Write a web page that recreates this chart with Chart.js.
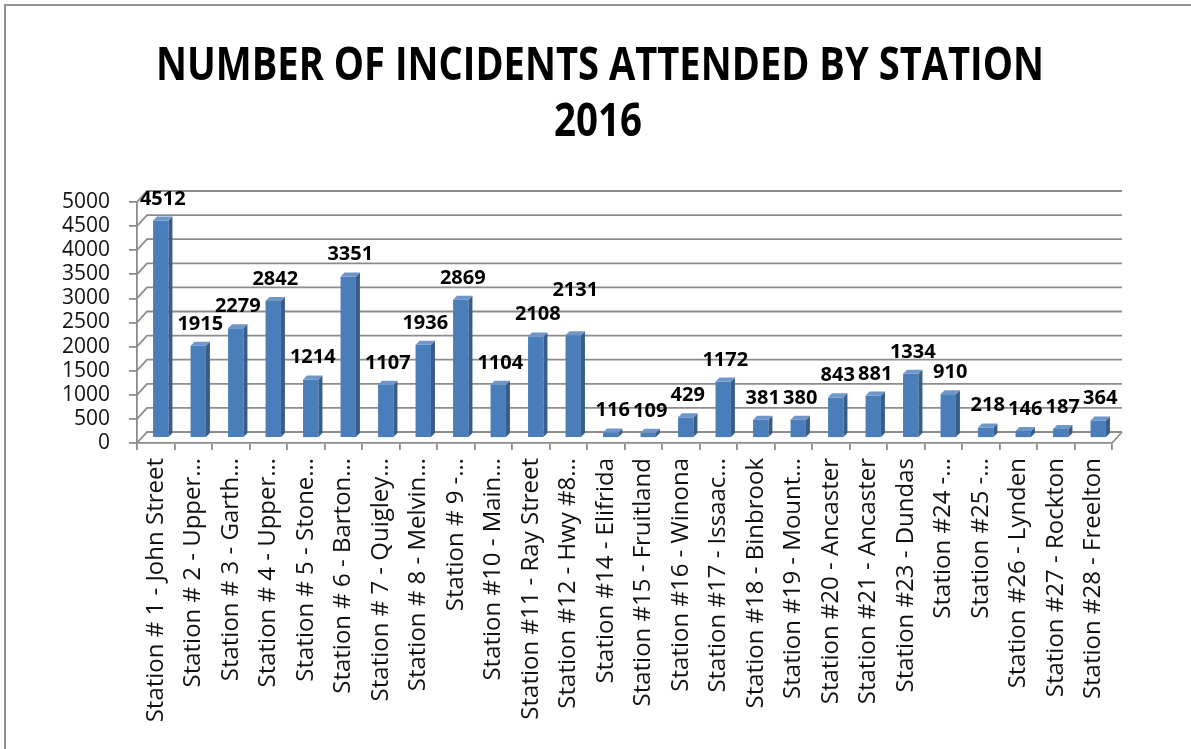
<!DOCTYPE html>
<html>
<head>
<meta charset="utf-8">
<script src="https://cdn.jsdelivr.net/npm/chart.js@4"></script>
<style>
  html, body { margin: 0; padding: 0; background: #fff; overflow: hidden; }
  #wrap { position: relative; width: 1191px; height: 749px; }
  #frame { position: absolute; left: 4px; top: 4px; width: 1300px; height: 900px;
           border-left: 2px solid #8f8f8f; border-top: 2px solid #8f8f8f; pointer-events: none; }
</style>
</head>
<body>
<div id="wrap">
  <canvas id="chart"></canvas>
  <div id="frame"></div>
</div>
<script>
// Incidents attended by station, 2016 - 3D-looking column chart
const stations = [
  'Station # 1 - John Street', 'Station # 2 - Upper…', 'Station # 3 - Garth…',
  'Station # 4 - Upper…', 'Station # 5 - Stone…', 'Station # 6 - Barton…',
  'Station # 7 - Quigley…', 'Station # 8 - Melvin…', 'Station # 9 -…',
  'Station #10 - Main…', 'Station #11 - Ray Street', 'Station #12 - Hwy #8…',
  'Station #14 - Elifrida', 'Station #15 - Fruitland', 'Station #16 - Winona',
  'Station #17 - Issaac…', 'Station #18 - Binbrook', 'Station #19 - Mount…',
  'Station #20 - Ancaster', 'Station #21 - Ancaster', 'Station #23 - Dundas',
  'Station #24 -…', 'Station #25 -…', 'Station #26 - Lynden',
  'Station #27 - Rockton', 'Station #28 - Freelton'
];
const incidents = [4512, 1915, 2279, 2842, 1214, 3351, 1107, 1936, 2869, 1104, 2108, 2131,
  116, 109, 429, 1172, 381, 380, 843, 881, 1334, 910, 218, 146, 187, 364];

const titleLines = ['NUMBER OF INCIDENTS ATTENDED BY STATION', '2016'];

// depth of the back wall and of the bars
const wallDx = 10, wallDy = -11;
const barShift = 5, barDepth = 4;

// title drawn by hand so it can be squeezed like the original's narrow font
const titlePlugin = {
  id: 'squeezedTitle',
  afterDraw(chart) {
    const ctx = chart.ctx;
    ctx.save();
    ctx.fillStyle = '#000';
    ctx.textAlign = 'center';
    ctx.textBaseline = 'alphabetic';
    ctx.font = 'bold 47px "Open Sans", sans-serif';
    ctx.fillText(titleLines[0], 600, 80, 888);
    ctx.fillText(titleLines[1], 598, 136, 88);
    ctx.restore();
  }
};

const wallPlugin = {
  id: 'wall',
  beforeDatasetsDraw(chart) {
    const { ctx, scales: { x, y } } = chart;
    ctx.save();
    ctx.strokeStyle = '#8c8c8c';
    ctx.lineWidth = 1.8;
    y.ticks.forEach(t => {
      const py = y.getPixelForValue(t.value);
      ctx.beginPath();
      ctx.moveTo(x.left, py);
      ctx.lineTo(x.left + wallDx, py + wallDy);
      ctx.lineTo(x.right + wallDx, py + wallDy);
      ctx.stroke();
    });
    // floor right edge
    const p0 = y.getPixelForValue(0);
    ctx.beginPath();
    ctx.moveTo(x.right, p0);
    ctx.lineTo(x.right + wallDx, p0 + wallDy);
    ctx.stroke();
    ctx.restore();

    // shift the bars into the middle of the depth
    ctx.save();
    ctx.translate(barShift, -barShift);
  },
  afterDatasetsDraw(chart) {
    const { ctx } = chart;
    const meta = chart.getDatasetMeta(0);
    let prev = null;
    meta.data.forEach((bar, i) => {
      const l = bar.x - bar.width / 2, r = bar.x + bar.width / 2;
      // right side face
      ctx.fillStyle = '#385d8a';
      ctx.beginPath();
      ctx.moveTo(r, bar.y);
      ctx.lineTo(r + barDepth, bar.y - barDepth);
      ctx.lineTo(r + barDepth, bar.base - barDepth);
      ctx.lineTo(r, bar.base);
      ctx.closePath();
      ctx.fill();
      // top face
      ctx.fillStyle = '#6f96c8';
      ctx.beginPath();
      ctx.moveTo(l, bar.y);
      ctx.lineTo(l + barDepth, bar.y - barDepth);
      ctx.lineTo(r + barDepth, bar.y - barDepth);
      ctx.lineTo(r, bar.y);
      ctx.closePath();
      ctx.fill();
      // value label; lift it when it would run into the previous one (2108 / 2131)
      ctx.fillStyle = '#000';
      ctx.font = 'bold 20px "Open Sans", sans-serif';
      ctx.textAlign = 'center';
      ctx.textBaseline = 'alphabetic';
      const txt = String(incidents[i]);
      const w = ctx.measureText(txt).width;
      let ly = bar.y - 16;
      if (prev && bar.x - w / 2 < prev.right - 2 && Math.abs(ly - prev.y) < 6 && incidents[i] > 2000) {
        ly = prev.y - 24;
      }
      ctx.fillText(txt, bar.x + 2, ly);
      prev = { right: bar.x + 2 + w / 2, y: ly };
    });
    ctx.restore();
  }
};

new Chart(document.getElementById('chart'), {
  type: 'bar',
  data: {
    labels: stations,
    datasets: [{
      label: 'Incidents',
      data: incidents,
      backgroundColor: '#4a7ebb',
      borderWidth: 0,
      barPercentage: 0.41,
      categoryPercentage: 1,
      clip: false
    }]
  },
  options: {
    responsive: true,
    maintainAspectRatio: false,
    animation: false,
    events: [],
    layout: { padding: { left: 0, right: 79, top: 202, bottom: 0 } },
    plugins: {
      legend: { display: false },
      tooltip: { enabled: false },
      title: { display: false }
    },
    scales: {
      x: {
        offset: true,
        grid: { drawOnChartArea: false, drawTicks: true, tickLength: 7, color: '#8c8c8c', lineWidth: 1.8 },
        border: { display: true, color: '#8c8c8c', width: 1.8 },
        ticks: {
          autoSkip: false, maxRotation: 90, minRotation: 90, padding: 8,
          color: '#111',
          font: { family: '"Open Sans", sans-serif', size: 24 }
        },
        afterFit(scale) { scale.height = 306; }
      },
      y: {
        min: 0, max: 5000,
        grid: { drawOnChartArea: false, drawTicks: true, tickLength: 8, color: '#8c8c8c', lineWidth: 1.8 },
        border: { display: true, color: '#8c8c8c', width: 1.8 },
        ticks: {
          stepSize: 500, autoSkip: false, padding: 19,
          color: '#111',
          font: { family: '"Open Sans", sans-serif', size: 21 },
          callback: v => String(v)
        },
        afterFit(scale) { scale.width = 137; }
      }
    }
  },
  plugins: [wallPlugin, titlePlugin]
});
</script>
</body>
</html>
